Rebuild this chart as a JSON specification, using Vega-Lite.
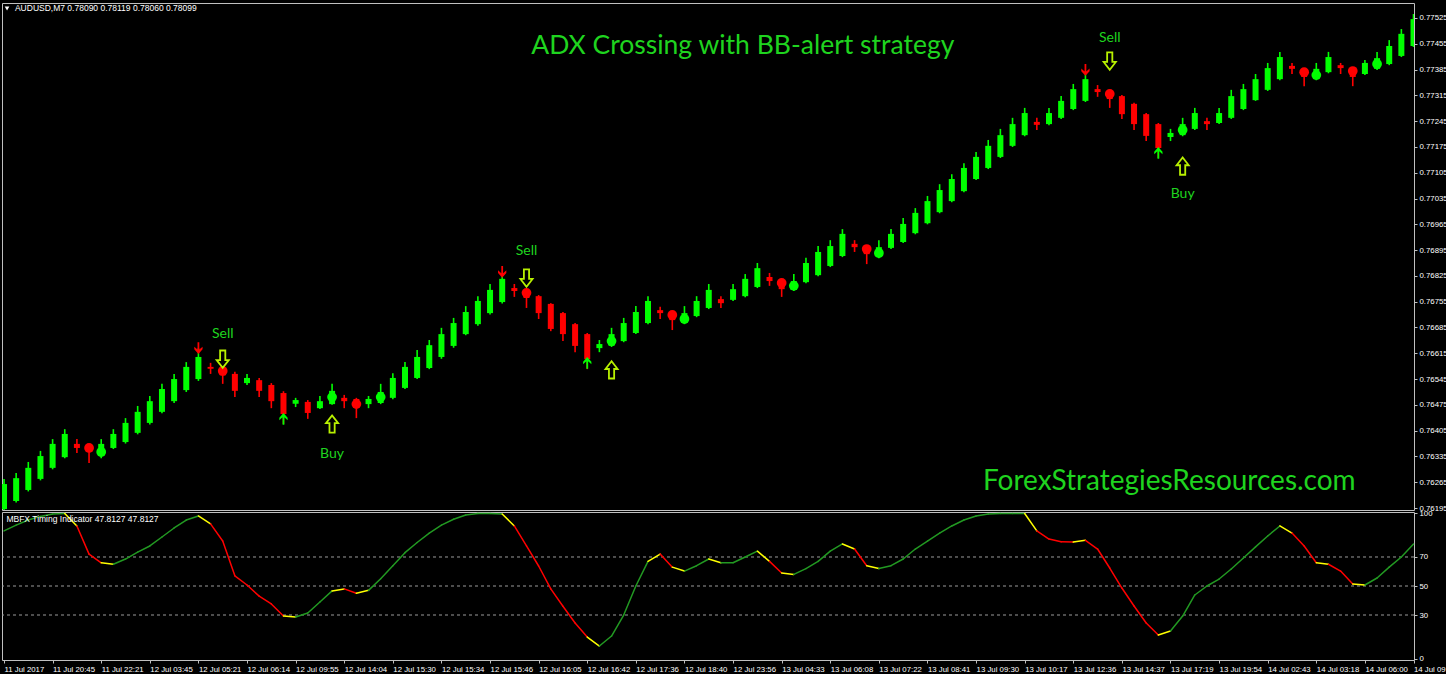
{
  "$schema": "https://vega.github.io/schema/vega-lite/v6.json",
  "background": "#000000",
  "padding": {"left": 1, "top": 2, "right": 0, "bottom": 0},
  "spacing": 2,
  "bounds": "flush",
  "config": {
    "view": {"stroke": "#c0c0c0", "strokeWidth": 1},
    "axis": {"labelFont": "Liberation Sans", "labelFontSize": 7.8, "labelColor": "#ffffff", "tickColor": "#c0c0c0", "tickSize": 3, "labelPadding": 2, "domain": false, "grid": false, "title": null, "labelOverlap": false}
  },
  "resolve": {"scale": {"y": "independent", "color": "independent"}},
  "datasets": {
    "candles": [
      {"i":0,"o":0.76192,"h":0.76274,"l":0.76185,"c":0.76260,"d":"up"},
      {"i":1,"o":0.76214,"h":0.76290,"l":0.76210,"c":0.76276,"d":"up"},
      {"i":2,"o":0.76244,"h":0.76320,"l":0.76240,"c":0.76304,"d":"up"},
      {"i":3,"o":0.76274,"h":0.76350,"l":0.76270,"c":0.76336,"d":"up"},
      {"i":4,"o":0.76304,"h":0.76382,"l":0.76300,"c":0.76369,"d":"up"},
      {"i":5,"o":0.76333,"h":0.76409,"l":0.76330,"c":0.76396,"d":"up"},
      {"i":6,"o":0.76369,"h":0.76382,"l":0.76344,"c":0.76358,"d":"dn"},
      {"i":7,"o":0.76363,"h":0.76369,"l":0.76317,"c":0.76350,"d":"dn"},
      {"i":8,"o":0.76336,"h":0.76382,"l":0.76330,"c":0.76369,"d":"up"},
      {"i":9,"o":0.76358,"h":0.76409,"l":0.76355,"c":0.76396,"d":"up"},
      {"i":10,"o":0.76374,"h":0.76439,"l":0.76370,"c":0.76426,"d":"up"},
      {"i":11,"o":0.76399,"h":0.76472,"l":0.76395,"c":0.76456,"d":"up"},
      {"i":12,"o":0.76426,"h":0.76499,"l":0.76422,"c":0.76485,"d":"up"},
      {"i":13,"o":0.76456,"h":0.76532,"l":0.76452,"c":0.76518,"d":"up"},
      {"i":14,"o":0.76485,"h":0.76559,"l":0.76480,"c":0.76545,"d":"up"},
      {"i":15,"o":0.76515,"h":0.76591,"l":0.76510,"c":0.76578,"d":"up"},
      {"i":16,"o":0.76545,"h":0.76629,"l":0.76540,"c":0.76605,"d":"up"},
      {"i":17,"o":0.76578,"h":0.76589,"l":0.76559,"c":0.76573,"d":"dn"},
      {"i":18,"o":0.76575,"h":0.76578,"l":0.76532,"c":0.76555,"d":"dn"},
      {"i":19,"o":0.76559,"h":0.76565,"l":0.76496,"c":0.76513,"d":"dn"},
      {"i":20,"o":0.76534,"h":0.76559,"l":0.76529,"c":0.76548,"d":"up"},
      {"i":21,"o":0.76542,"h":0.76548,"l":0.76496,"c":0.76513,"d":"dn"},
      {"i":22,"o":0.76529,"h":0.76534,"l":0.76466,"c":0.76485,"d":"dn"},
      {"i":23,"o":0.76507,"h":0.76512,"l":0.76423,"c":0.76450,"d":"dn"},
      {"i":24,"o":0.76478,"h":0.76494,"l":0.76469,"c":0.76488,"d":"up"},
      {"i":25,"o":0.76483,"h":0.76488,"l":0.76437,"c":0.76453,"d":"dn"},
      {"i":26,"o":0.76466,"h":0.76499,"l":0.76464,"c":0.76485,"d":"up"},
      {"i":27,"o":0.76477,"h":0.76532,"l":0.76475,"c":0.76513,"d":"up"},
      {"i":28,"o":0.76494,"h":0.76502,"l":0.76466,"c":0.76485,"d":"dn"},
      {"i":29,"o":0.76491,"h":0.76494,"l":0.76439,"c":0.76472,"d":"dn"},
      {"i":30,"o":0.76477,"h":0.76499,"l":0.76466,"c":0.76491,"d":"up"},
      {"i":31,"o":0.76480,"h":0.76532,"l":0.76477,"c":0.76510,"d":"up"},
      {"i":32,"o":0.76494,"h":0.76561,"l":0.76490,"c":0.76548,"d":"up"},
      {"i":33,"o":0.76521,"h":0.76591,"l":0.76518,"c":0.76578,"d":"up"},
      {"i":34,"o":0.76548,"h":0.76624,"l":0.76545,"c":0.76605,"d":"up"},
      {"i":35,"o":0.76575,"h":0.76651,"l":0.76572,"c":0.76637,"d":"up"},
      {"i":36,"o":0.76605,"h":0.76684,"l":0.76600,"c":0.76667,"d":"up"},
      {"i":37,"o":0.76635,"h":0.76711,"l":0.76630,"c":0.76697,"d":"up"},
      {"i":38,"o":0.76667,"h":0.76743,"l":0.76664,"c":0.76727,"d":"up"},
      {"i":39,"o":0.76694,"h":0.76770,"l":0.76690,"c":0.76757,"d":"up"},
      {"i":40,"o":0.76724,"h":0.76803,"l":0.76720,"c":0.76787,"d":"up"},
      {"i":41,"o":0.76754,"h":0.76830,"l":0.76750,"c":0.76817,"d":"up"},
      {"i":42,"o":0.76792,"h":0.76803,"l":0.76768,"c":0.76784,"d":"dn"},
      {"i":43,"o":0.76784,"h":0.76789,"l":0.76738,"c":0.76765,"d":"dn"},
      {"i":44,"o":0.76770,"h":0.76773,"l":0.76708,"c":0.76724,"d":"dn"},
      {"i":45,"o":0.76749,"h":0.76751,"l":0.76675,"c":0.76681,"d":"dn"},
      {"i":46,"o":0.76724,"h":0.76727,"l":0.76648,"c":0.76667,"d":"dn"},
      {"i":47,"o":0.76694,"h":0.76697,"l":0.76618,"c":0.76635,"d":"dn"},
      {"i":48,"o":0.76667,"h":0.76670,"l":0.76572,"c":0.76599,"d":"dn"},
      {"i":49,"o":0.76629,"h":0.76651,"l":0.76618,"c":0.76640,"d":"up"},
      {"i":50,"o":0.76635,"h":0.76684,"l":0.76632,"c":0.76667,"d":"up"},
      {"i":51,"o":0.76648,"h":0.76711,"l":0.76645,"c":0.76697,"d":"up"},
      {"i":52,"o":0.76670,"h":0.76743,"l":0.76667,"c":0.76727,"d":"up"},
      {"i":53,"o":0.76697,"h":0.76770,"l":0.76694,"c":0.76757,"d":"up"},
      {"i":54,"o":0.76732,"h":0.76741,"l":0.76708,"c":0.76724,"d":"dn"},
      {"i":55,"o":0.76727,"h":0.76730,"l":0.76678,"c":0.76705,"d":"dn"},
      {"i":56,"o":0.76697,"h":0.76743,"l":0.76694,"c":0.76724,"d":"up"},
      {"i":57,"o":0.76716,"h":0.76770,"l":0.76713,"c":0.76757,"d":"up"},
      {"i":58,"o":0.76738,"h":0.76803,"l":0.76735,"c":0.76787,"d":"up"},
      {"i":59,"o":0.76762,"h":0.76770,"l":0.76738,"c":0.76751,"d":"dn"},
      {"i":60,"o":0.76760,"h":0.76803,"l":0.76757,"c":0.76789,"d":"up"},
      {"i":61,"o":0.76770,"h":0.76830,"l":0.76767,"c":0.76817,"d":"up"},
      {"i":62,"o":0.76795,"h":0.76860,"l":0.76792,"c":0.76846,"d":"up"},
      {"i":63,"o":0.76822,"h":0.76833,"l":0.76798,"c":0.76811,"d":"dn"},
      {"i":64,"o":0.76811,"h":0.76817,"l":0.76768,"c":0.76789,"d":"dn"},
      {"i":65,"o":0.76787,"h":0.76830,"l":0.76784,"c":0.76811,"d":"up"},
      {"i":66,"o":0.76808,"h":0.76874,"l":0.76805,"c":0.76860,"d":"up"},
      {"i":67,"o":0.76827,"h":0.76906,"l":0.76824,"c":0.76890,"d":"up"},
      {"i":68,"o":0.76852,"h":0.76922,"l":0.76849,"c":0.76906,"d":"up"},
      {"i":69,"o":0.76879,"h":0.76952,"l":0.76876,"c":0.76939,"d":"up"},
      {"i":70,"o":0.76912,"h":0.76922,"l":0.76890,"c":0.76903,"d":"dn"},
      {"i":71,"o":0.76903,"h":0.76906,"l":0.76857,"c":0.76884,"d":"dn"},
      {"i":72,"o":0.76876,"h":0.76922,"l":0.76873,"c":0.76903,"d":"up"},
      {"i":73,"o":0.76901,"h":0.76952,"l":0.76898,"c":0.76939,"d":"up"},
      {"i":74,"o":0.76917,"h":0.76982,"l":0.76914,"c":0.76966,"d":"up"},
      {"i":75,"o":0.76941,"h":0.77009,"l":0.76938,"c":0.76996,"d":"up"},
      {"i":76,"o":0.76968,"h":0.77042,"l":0.76965,"c":0.77028,"d":"up"},
      {"i":77,"o":0.76998,"h":0.77074,"l":0.76995,"c":0.77058,"d":"up"},
      {"i":78,"o":0.77028,"h":0.77101,"l":0.77025,"c":0.77088,"d":"up"},
      {"i":79,"o":0.77055,"h":0.77131,"l":0.77052,"c":0.77118,"d":"up"},
      {"i":80,"o":0.77088,"h":0.77161,"l":0.77085,"c":0.77148,"d":"up"},
      {"i":81,"o":0.77118,"h":0.77194,"l":0.77115,"c":0.77178,"d":"up"},
      {"i":82,"o":0.77148,"h":0.77224,"l":0.77145,"c":0.77207,"d":"up"},
      {"i":83,"o":0.77178,"h":0.77254,"l":0.77175,"c":0.77237,"d":"up"},
      {"i":84,"o":0.77207,"h":0.77281,"l":0.77204,"c":0.77267,"d":"up"},
      {"i":85,"o":0.77243,"h":0.77254,"l":0.77221,"c":0.77235,"d":"dn"},
      {"i":86,"o":0.77237,"h":0.77281,"l":0.77234,"c":0.77267,"d":"up"},
      {"i":87,"o":0.77254,"h":0.77313,"l":0.77251,"c":0.77300,"d":"up"},
      {"i":88,"o":0.77278,"h":0.77346,"l":0.77275,"c":0.77332,"d":"up"},
      {"i":89,"o":0.77300,"h":0.77373,"l":0.77297,"c":0.77359,"d":"up"},
      {"i":90,"o":0.77332,"h":0.77343,"l":0.77311,"c":0.77324,"d":"dn"},
      {"i":91,"o":0.77324,"h":0.77330,"l":0.77281,"c":0.77305,"d":"dn"},
      {"i":92,"o":0.77313,"h":0.77316,"l":0.77251,"c":0.77264,"d":"dn"},
      {"i":93,"o":0.77292,"h":0.77295,"l":0.77221,"c":0.77237,"d":"dn"},
      {"i":94,"o":0.77264,"h":0.77267,"l":0.77191,"c":0.77205,"d":"dn"},
      {"i":95,"o":0.77237,"h":0.77240,"l":0.77145,"c":0.77172,"d":"dn"},
      {"i":96,"o":0.77202,"h":0.77224,"l":0.77191,"c":0.77213,"d":"up"},
      {"i":97,"o":0.77207,"h":0.77254,"l":0.77204,"c":0.77237,"d":"up"},
      {"i":98,"o":0.77224,"h":0.77281,"l":0.77221,"c":0.77267,"d":"up"},
      {"i":99,"o":0.77245,"h":0.77254,"l":0.77221,"c":0.77237,"d":"dn"},
      {"i":100,"o":0.77240,"h":0.77281,"l":0.77237,"c":0.77267,"d":"up"},
      {"i":101,"o":0.77254,"h":0.77330,"l":0.77251,"c":0.77313,"d":"up"},
      {"i":102,"o":0.77278,"h":0.77346,"l":0.77275,"c":0.77332,"d":"up"},
      {"i":103,"o":0.77302,"h":0.77373,"l":0.77300,"c":0.77359,"d":"up"},
      {"i":104,"o":0.77330,"h":0.77403,"l":0.77327,"c":0.77389,"d":"up"},
      {"i":105,"o":0.77359,"h":0.77433,"l":0.77356,"c":0.77419,"d":"up"},
      {"i":106,"o":0.77395,"h":0.77403,"l":0.77373,"c":0.77387,"d":"dn"},
      {"i":107,"o":0.77387,"h":0.77389,"l":0.77340,"c":0.77365,"d":"dn"},
      {"i":108,"o":0.77359,"h":0.77403,"l":0.77356,"c":0.77387,"d":"up"},
      {"i":109,"o":0.77378,"h":0.77433,"l":0.77375,"c":0.77419,"d":"up"},
      {"i":110,"o":0.77397,"h":0.77403,"l":0.77373,"c":0.77389,"d":"dn"},
      {"i":111,"o":0.77387,"h":0.77389,"l":0.77340,"c":0.77365,"d":"dn"},
      {"i":112,"o":0.77373,"h":0.77411,"l":0.77370,"c":0.77403,"d":"up"},
      {"i":113,"o":0.77387,"h":0.77433,"l":0.77384,"c":0.77416,"d":"up"},
      {"i":114,"o":0.77400,"h":0.77465,"l":0.77397,"c":0.77449,"d":"up"},
      {"i":115,"o":0.77422,"h":0.77495,"l":0.77419,"c":0.77482,"d":"up"},
      {"i":116,"o":0.77449,"h":0.77536,"l":0.77446,"c":0.77522,"d":"up"}
    ],
    "dots": [
      {"i":7,"p":0.76358,"d":"dn"},{"i":8,"p":0.76347,"d":"up"},
      {"i":18,"p":0.76567,"d":"dn"},{"i":27,"p":0.76496,"d":"up"},
      {"i":29,"p":0.76477,"d":"dn"},{"i":31,"p":0.76496,"d":"up"},
      {"i":43,"p":0.76779,"d":"dn"},{"i":50,"p":0.76648,"d":"up"},
      {"i":55,"p":0.76719,"d":"dn"},{"i":56,"p":0.76708,"d":"up"},
      {"i":64,"p":0.76806,"d":"dn"},{"i":65,"p":0.76798,"d":"up"},
      {"i":71,"p":0.76898,"d":"dn"},{"i":72,"p":0.76887,"d":"up"},
      {"i":91,"p":0.77319,"d":"dn"},{"i":97,"p":0.77221,"d":"up"},
      {"i":107,"p":0.77378,"d":"dn"},{"i":108,"p":0.77370,"d":"up"},
      {"i":111,"p":0.77381,"d":"dn"},{"i":113,"p":0.77400,"d":"up"}
    ],
    "crossDown": [{"i":16,"p":0.76629},{"i":41,"p":0.76836},{"i":89,"p":0.77384}],
    "crossUp": [{"i":23,"p":0.76437},{"i":48,"p":0.76589},{"i":95,"p":0.77159}],
    "sellSignals": [{"i":18,"p":0.76599},{"i":43,"p":0.76819},{"i":91,"p":0.77408}],
    "buySignals": [{"i":27,"p":0.76423},{"i":50,"p":0.76570},{"i":97,"p":0.77123}],
    "signalLabels": [
      {"i":18,"p":0.76667,"t":"Sell"},{"i":27,"p":0.76342,"t":"Buy"},
      {"i":43,"p":0.76893,"t":"Sell"},{"i":91,"p":0.77471,"t":"Sell"},
      {"i":97,"p":0.77047,"t":"Buy"}
    ],
    "titleNote": [{"i":60.8,"p":0.77449,"t":"ADX Crossing with BB-alert strategy"}],
    "siteNote": [{"i":95.9,"p":0.76266,"t":"ForexStrategiesResources.com"}],
    "symbolHeader": [{"i":0.9,"p":0.77551,"t":"AUDUSD,M7  0.78090 0.78119 0.78060 0.78099"}],
    "headerMarker": [{"i":0.25,"p":0.77551}],
    "mbfxHeader": [{"i":0.2,"v":96.2,"t":"MBFX Timing Indicator 47.8127 47.8127"}],
    "mbfx": [
      {"i":0,"v":88,"c":"g"},{"i":1,"v":92,"c":"g"},{"i":2,"v":95.5,"c":"g"},{"i":3,"v":98,"c":"g"},
      {"i":4,"v":99.7,"c":"g"},{"i":5,"v":100,"c":"y"},{"i":6,"v":91.4,"c":"r"},{"i":7,"v":72,"c":"r"},
      {"i":8,"v":66,"c":"y"},{"i":9,"v":65,"c":"g"},{"i":10,"v":68.6,"c":"g"},{"i":11,"v":73.4,"c":"g"},
      {"i":12,"v":77.6,"c":"g"},{"i":13,"v":83.8,"c":"g"},{"i":14,"v":90,"c":"g"},{"i":15,"v":95.5,"c":"g"},
      {"i":16,"v":98.3,"c":"y"},{"i":17,"v":92.8,"c":"r"},{"i":18,"v":81,"c":"r"},{"i":19,"v":57,"c":"r"},
      {"i":20,"v":50.7,"c":"r"},{"i":21,"v":43,"c":"r"},{"i":22,"v":37.6,"c":"r"},{"i":23,"v":29.3,"c":"y"},
      {"i":24,"v":28.6,"c":"g"},{"i":25,"v":31.4,"c":"g"},{"i":26,"v":39,"c":"g"},{"i":27,"v":46.6,"c":"y"},
      {"i":28,"v":48,"c":"r"},{"i":29,"v":45,"c":"y"},{"i":30,"v":47,"c":"g"},{"i":31,"v":55,"c":"g"},
      {"i":32,"v":64,"c":"g"},{"i":33,"v":73,"c":"g"},{"i":34,"v":80,"c":"g"},{"i":35,"v":86.5,"c":"g"},
      {"i":36,"v":92,"c":"g"},{"i":37,"v":96,"c":"g"},{"i":38,"v":99,"c":"g"},{"i":39,"v":100,"c":"g"},
      {"i":40,"v":100,"c":"g"},{"i":41,"v":99.7,"c":"y"},{"i":42,"v":91.4,"c":"r"},{"i":43,"v":77.6,"c":"r"},
      {"i":44,"v":63.8,"c":"r"},{"i":45,"v":48,"c":"r"},{"i":46,"v":36,"c":"r"},{"i":47,"v":24.5,"c":"r"},
      {"i":48,"v":14.8,"c":"y"},{"i":49,"v":8.6,"c":"g"},{"i":50,"v":15.5,"c":"g"},{"i":51,"v":30,"c":"g"},
      {"i":52,"v":50,"c":"g"},{"i":53,"v":67,"c":"y"},{"i":54,"v":72,"c":"r"},{"i":55,"v":63,"c":"y"},
      {"i":56,"v":60.3,"c":"g"},{"i":57,"v":64,"c":"g"},{"i":58,"v":68.6,"c":"y"},{"i":59,"v":66,"c":"g"},
      {"i":60,"v":66,"c":"g"},{"i":61,"v":70,"c":"g"},{"i":62,"v":74,"c":"y"},{"i":63,"v":67,"c":"r"},
      {"i":64,"v":59,"c":"y"},{"i":65,"v":58,"c":"g"},{"i":66,"v":62,"c":"g"},{"i":67,"v":67,"c":"g"},
      {"i":68,"v":74,"c":"g"},{"i":69,"v":79,"c":"y"},{"i":70,"v":75.5,"c":"r"},{"i":71,"v":64,"c":"y"},
      {"i":72,"v":62,"c":"g"},{"i":73,"v":64,"c":"g"},{"i":74,"v":68.6,"c":"g"},{"i":75,"v":75.5,"c":"g"},
      {"i":76,"v":81,"c":"g"},{"i":77,"v":86.5,"c":"g"},{"i":78,"v":91.4,"c":"g"},{"i":79,"v":95.5,"c":"g"},
      {"i":80,"v":98.3,"c":"g"},{"i":81,"v":99.7,"c":"g"},{"i":82,"v":100,"c":"g"},{"i":83,"v":100,"c":"g"},
      {"i":84,"v":100,"c":"y"},{"i":85,"v":88,"c":"r"},{"i":86,"v":82.4,"c":"r"},{"i":87,"v":80.5,"c":"r"},
      {"i":88,"v":80.3,"c":"y"},{"i":89,"v":81.5,"c":"r"},{"i":90,"v":75.5,"c":"r"},{"i":91,"v":62.4,"c":"r"},
      {"i":92,"v":48.6,"c":"r"},{"i":93,"v":36.2,"c":"r"},{"i":94,"v":24.5,"c":"r"},{"i":95,"v":16.2,"c":"y"},
      {"i":96,"v":19,"c":"g"},{"i":97,"v":29.3,"c":"g"},{"i":98,"v":43.8,"c":"g"},{"i":99,"v":50,"c":"g"},
      {"i":100,"v":54.8,"c":"g"},{"i":101,"v":61.7,"c":"g"},{"i":102,"v":69.3,"c":"g"},{"i":103,"v":77,"c":"g"},
      {"i":104,"v":84.5,"c":"g"},{"i":105,"v":91.4,"c":"y"},{"i":106,"v":86.5,"c":"r"},{"i":107,"v":77.6,"c":"r"},
      {"i":108,"v":66,"c":"y"},{"i":109,"v":65,"c":"r"},{"i":110,"v":60.3,"c":"r"},{"i":111,"v":51.4,"c":"y"},
      {"i":112,"v":50.7,"c":"g"},{"i":113,"v":55.5,"c":"g"},{"i":114,"v":63,"c":"g"},{"i":115,"v":70,"c":"g"},
      {"i":116,"v":79,"c":"g"}
    ],
    "levels": [{"lvl":30},{"lvl":50},{"lvl":70}]
  },
  "vconcat": [
    {
      "width": 1412,
      "height": 507,
      "encoding": {
        "x": {"field": "i", "type": "quantitative", "scale": {"domain": [-0.1646, 116.04], "nice": false, "zero": false}, "axis": null}
      },
      "layer": [
        {
          "data": {"name": "candles"},
          "mark": {"type": "rule", "strokeWidth": 1.6, "clip": true},
          "encoding": {
            "y": {"field": "l", "type": "quantitative", "scale": {"domain": [0.761896, 0.775657], "nice": false, "zero": false},
                  "axis": {"orient": "right", "format": ".5f", "tickCount": 100, "labelOverlap": false, "labelFlush": false,
                           "values": [0.77525,0.77455,0.77385,0.77315,0.77245,0.77175,0.77105,0.77035,0.76965,0.76895,0.76825,0.76755,0.76685,0.76615,0.76545,0.76475,0.76405,0.76335,0.76265,0.76195]}},
            "y2": {"field": "h"},
            "color": {"field": "d", "type": "nominal", "scale": {"domain": ["up", "dn"], "range": ["#00ff00", "#ff0000"]}, "legend": null}
          }
        },
        {
          "data": {"name": "candles"},
          "mark": {"type": "rule", "strokeWidth": 6, "strokeCap": "butt", "clip": true},
          "encoding": {
            "y": {"field": "o", "type": "quantitative"},
            "y2": {"field": "c"},
            "color": {"field": "d", "type": "nominal", "legend": null}
          }
        },
        {
          "data": {"name": "dots"},
          "mark": {"type": "point", "shape": "circle", "filled": true, "opacity": 1, "size": 95},
          "encoding": {
            "y": {"field": "p", "type": "quantitative"},
            "color": {"field": "d", "type": "nominal", "legend": null}
          }
        },
        {
          "data": {"name": "crossDown"},
          "mark": {"type": "point", "filled": true, "opacity": 1, "size": 140, "color": "#ff0000",
                   "shape": "M-0.15,-1L0.15,-1L0.15,0.25L0.7,-0.25L0.7,0.2L0,1L-0.7,0.2L-0.7,-0.25L-0.15,0.25Z"},
          "encoding": {"y": {"field": "p", "type": "quantitative"}}
        },
        {
          "data": {"name": "crossUp"},
          "mark": {"type": "point", "filled": true, "opacity": 1, "size": 140, "color": "#00ff00",
                   "shape": "M-0.15,1L0.15,1L0.15,-0.25L0.7,0.25L0.7,-0.2L0,-1L-0.7,-0.2L-0.7,0.25L-0.15,-0.25Z"},
          "encoding": {"y": {"field": "p", "type": "quantitative"}}
        },
        {
          "data": {"name": "sellSignals"},
          "mark": {"type": "point", "filled": false, "opacity": 1, "size": 300, "stroke": "#b8f000", "strokeWidth": 1.8,
                   "shape": "M-0.3,-1L0.3,-1L0.3,0.1L0.7,0.1L0,1L-0.7,0.1L-0.3,0.1Z"},
          "encoding": {"y": {"field": "p", "type": "quantitative"}}
        },
        {
          "data": {"name": "buySignals"},
          "mark": {"type": "point", "filled": false, "opacity": 1, "size": 300, "stroke": "#b8f000", "strokeWidth": 1.8,
                   "shape": "M-0.3,1L0.3,1L0.3,-0.1L0.7,-0.1L0,-1L-0.7,-0.1L-0.3,-0.1Z"},
          "encoding": {"y": {"field": "p", "type": "quantitative"}}
        },
        {
          "data": {"name": "signalLabels"},
          "mark": {"type": "text", "font": "Lato", "fontSize": 14, "color": "#1fd41f", "align": "center", "baseline": "middle"},
          "encoding": {"y": {"field": "p", "type": "quantitative"}, "text": {"field": "t"}}
        },
        {
          "data": {"name": "titleNote"},
          "mark": {"type": "text", "font": "Lato", "fontSize": 26.5, "color": "#1fd41f", "align": "center", "baseline": "middle"},
          "encoding": {"y": {"field": "p", "type": "quantitative"}, "text": {"field": "t"}}
        },
        {
          "data": {"name": "siteNote"},
          "mark": {"type": "text", "font": "Lato", "fontSize": 28, "color": "#1fd41f", "align": "center", "baseline": "middle"},
          "encoding": {"y": {"field": "p", "type": "quantitative"}, "text": {"field": "t"}}
        },
        {
          "data": {"name": "headerMarker"},
          "mark": {"type": "point", "shape": "triangle-down", "filled": true, "opacity": 1, "size": 22, "color": "#ffffff"},
          "encoding": {"y": {"field": "p", "type": "quantitative"}}
        },
        {
          "data": {"name": "symbolHeader"},
          "mark": {"type": "text", "font": "Liberation Sans", "fontSize": 8.5, "color": "#ffffff", "align": "left", "baseline": "middle"},
          "encoding": {"y": {"field": "p", "type": "quantitative"}, "text": {"field": "t"}}
        }
      ]
    },
    {
      "width": 1412,
      "height": 148,
      "encoding": {
        "x": {"field": "i", "type": "quantitative", "scale": {"domain": [-0.1646, 116.04], "nice": false, "zero": false},
              "axis": {"orient": "bottom", "tickCount": 100, "values": [0,4,8,12,16,20,24,28,32,36,40,44,48,52,56,60,64,68,72,76,80,84,88,92,96,100,104,108,112,116],
                       "labelAlign": "left", "labelFlush": false, "labelBound": false, "labelOverlap": false, "labelPadding": 2,
                       "labelExpr": "['11 Jul 2017','11 Jul 20:45','11 Jul 22:21','12 Jul 03:45','12 Jul 05:21','12 Jul 06:14','12 Jul 09:55','12 Jul 14:04','12 Jul 15:30','12 Jul 15:34','12 Jul 15:46','12 Jul 16:05','12 Jul 16:42','12 Jul 17:36','12 Jul 18:40','12 Jul 23:56','13 Jul 04:33','13 Jul 06:08','13 Jul 07:22','13 Jul 08:41','13 Jul 09:30','13 Jul 10:17','13 Jul 12:36','13 Jul 14:37','13 Jul 17:19','13 Jul 19:54','14 Jul 02:43','14 Jul 03:18','14 Jul 06:00','14 Jul 09:00'][round(datum.value / 4)]"}}
      },
      "layer": [
        {
          "data": {"name": "levels"},
          "mark": {"type": "rule", "color": "#9a9a9a", "strokeWidth": 1, "strokeDash": [3, 3]},
          "encoding": {
            "x": null,
            "y": {"field": "lvl", "type": "quantitative", "scale": {"domain": [-1.03, 101.03], "nice": false, "zero": false},
                  "axis": {"orient": "right", "values": [0, 30, 50, 70, 100], "tickCount": 100, "format": "d", "labelFlush": true, "labelOverlap": false}}
          }
        },
        {
          "data": {"name": "mbfx"},
          "transform": [
            {"window": [{"op": "lead", "field": "v", "as": "v2"}, {"op": "lead", "field": "i", "as": "i2"}], "sort": [{"field": "i"}]},
            {"filter": "datum.i2 != null"}
          ],
          "mark": {"type": "rule", "strokeWidth": 1.5, "strokeCap": "round"},
          "encoding": {
            "x2": {"field": "i2"},
            "y": {"field": "v", "type": "quantitative"},
            "y2": {"field": "v2"},
            "color": {"field": "c", "type": "nominal", "scale": {"domain": ["g", "r", "y"], "range": ["#229922", "#ff0000", "#ffff00"]}, "legend": null}
          }
        },
        {
          "data": {"name": "mbfxHeader"},
          "mark": {"type": "text", "font": "Liberation Sans", "fontSize": 8.5, "color": "#ffffff", "align": "left", "baseline": "middle"},
          "encoding": {"y": {"field": "v", "type": "quantitative"}, "text": {"field": "t"}}
        }
      ]
    }
  ]
}
